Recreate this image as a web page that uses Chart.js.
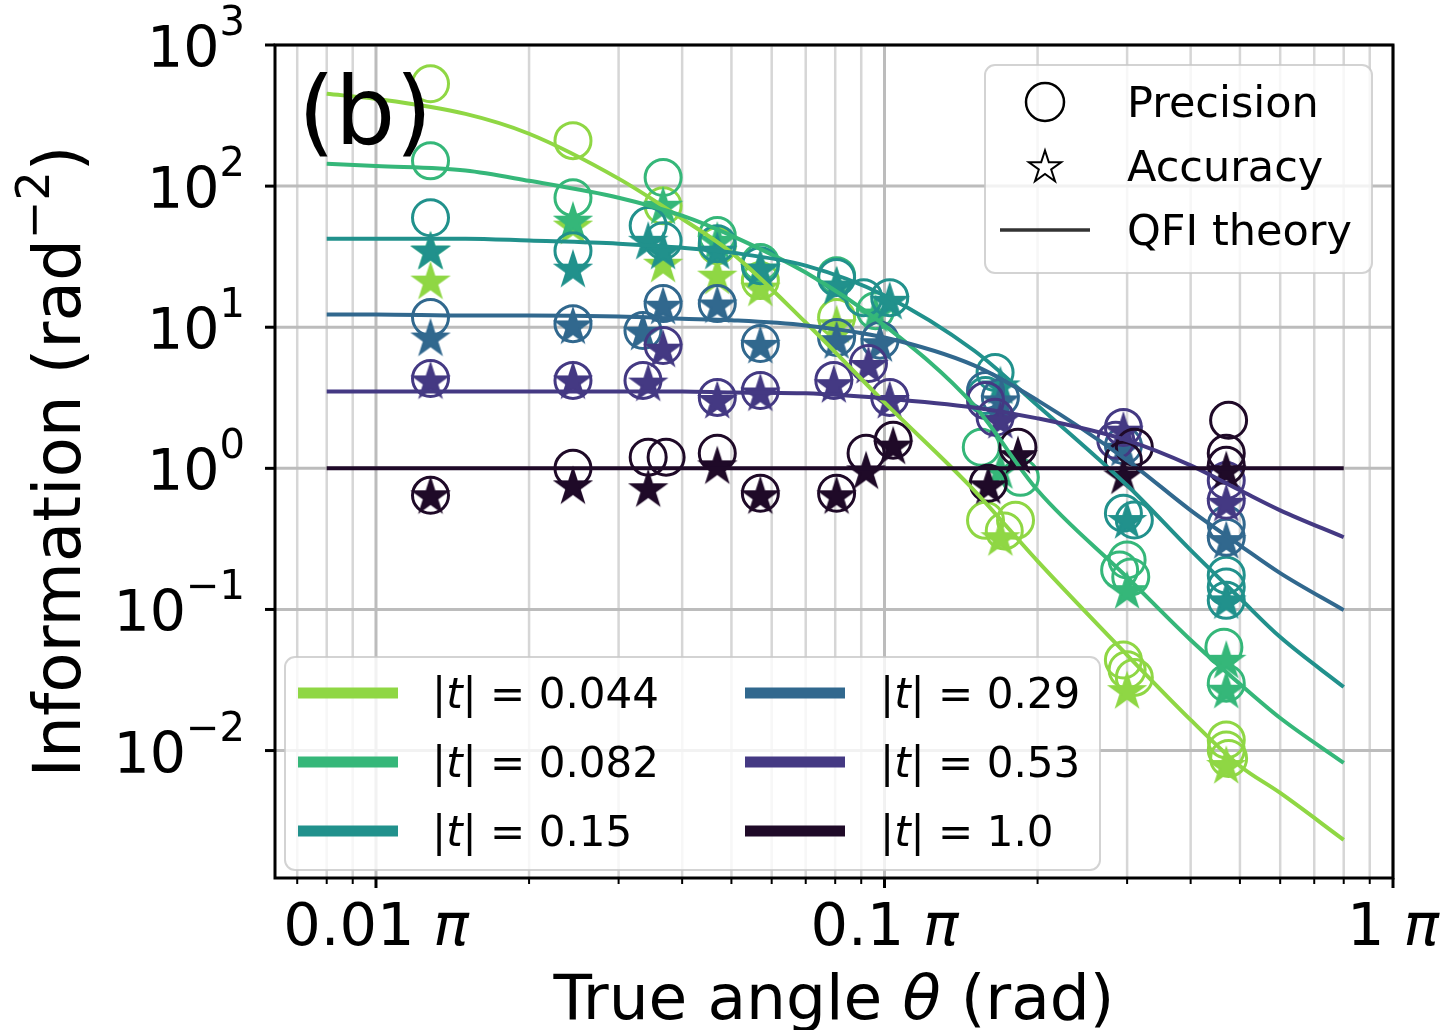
<!DOCTYPE html>
<html>
<head>
<meta charset="utf-8">
<script src="https://cdn.jsdelivr.net/npm/chart.js@4.4.0/dist/chart.umd.min.js"></script>
<style>
  html, body { margin: 0; padding: 0; background: #fff; }
  #wrap { width: 1453px; height: 1030px; }
</style>
</head>
<body>
<div id="wrap"><canvas id="infoChart" width="1453" height="1030"></canvas></div>
<script>
// |t| labels and colours (viridis-like, darkest for |t| = 1)
const tLabels = ['0.044', '0.082', '0.15', '0.29', '0.53', '1.0'];
const tColors = ['#8fd744', '#35b779', '#21918c', '#31688e', '#443983', '#1f0a28'];

// axis ticks (theta in units of pi)
const xMajor = [0.01, 0.1, 1];
const xMajorLabels = ['0.01 ', '0.1 ', '1 '];
const xMinor = [0.007, 0.008, 0.009, 0.02, 0.03, 0.04, 0.05, 0.06, 0.07, 0.08, 0.09,
  0.2, 0.3, 0.4, 0.5, 0.6, 0.7, 0.8, 0.9];
const yMajor = [1000, 100, 10, 1, 0.1, 0.01];
const yExponents = ['3', '2', '1', '0', '\u22121', '\u22122'];

// QFI theory curves
const theoryTheta = [0.008, 0.01, 0.015, 0.02, 0.03, 0.04, 0.05, 0.07, 0.1, 0.15, 0.2, 0.3, 0.4, 0.5, 0.6, 0.8];
const qfi044 = [451, 415, 325, 235, 113, 58.7, 33.8, 10.8, 2.93, 0.699, 0.22, 0.0475, 0.0165, 0.00778, 0.00501, 0.00233];
const qfi082 = [144, 139, 129, 109, 82.8, 61.8, 44.6, 24.4, 10.3, 2.79, 0.699, 0.169, 0.0607, 0.0296, 0.017, 0.00817];
const qfi15 = [42.4, 42.4, 42.4, 41.1, 39.1, 36.6, 33.8, 27.3, 16.8, 6.84, 2.79, 0.758, 0.263, 0.12, 0.0637, 0.0282];
const qfi29 = [12.3, 12.3, 12.1, 12.1, 11.9, 11.5, 11.2, 10.3, 8.45, 5.36, 3.03, 1.14, 0.504, 0.285, 0.181, 0.0989];
const qfi53 = [3.51, 3.51, 3.51, 3.51, 3.51, 3.51, 3.45, 3.4, 3.13, 2.7, 2.26, 1.58, 1.05, 0.699, 0.504, 0.325];
const qfi100 = [1, 1, 1, 1, 1, 1, 1, 1, 1, 1, 1, 1, 1, 1, 1, 1];

// precision (circles) and accuracy (stars)
const prec044Theta = [0.0128, 0.0244, 0.0367, 0.0469, 0.057, 0.0805, 0.158, 0.181, 0.172, 0.295, 0.30, 0.31, 0.47, 0.47, 0.475];
const prec044 = [531, 210, 72.6, 37.8, 21.4, 11.7, 0.428, 0.428, 0.36, 0.0438, 0.0374, 0.033, 0.0101, 0.0119, 0.0088];
const acc044Theta = [0.0128, 0.0244, 0.0367, 0.0469, 0.057, 0.0805, 0.169, 0.30, 0.47];
const acc044 = [21.4, 52.5, 28.2, 23.2, 19.1, 10.5, 0.325, 0.0268, 0.0079];

const prec082Theta = [0.0128, 0.0244, 0.0367, 0.0469, 0.057, 0.0805, 0.096, 0.155, 0.185, 0.29, 0.30, 0.305, 0.465, 0.47];
const prec082 = [151, 82.8, 115, 44.6, 28.7, 23.2, 13.1, 1.41, 0.863, 0.19, 0.224, 0.17, 0.054, 0.030];
const acc082Theta = [0.0128, 0.0244, 0.0367, 0.0469, 0.057, 0.0805, 0.096, 0.169, 0.30, 0.47, 0.47];
const acc082 = [34.9, 56.9, 72.6, 41, 26, 19.7, 12.5, 0.97, 0.137, 0.044, 0.027];

const prec15Theta = [0.0128, 0.0244, 0.0343, 0.0367, 0.0469, 0.057, 0.0805, 0.091, 0.1024, 0.165, 0.158, 0.295, 0.31, 0.47, 0.47, 0.47];
const prec15 = [59.7, 34.9, 52.5, 41, 39.1, 27.3, 22.5, 16.2, 16.2, 4.78, 3.28, 0.48, 0.43, 0.144, 0.175, 0.116];
const acc15Theta = [0.0128, 0.0244, 0.0343, 0.0367, 0.0469, 0.057, 0.0805, 0.1024, 0.169, 0.30, 0.47];
const acc15 = [34.9, 26, 41, 34.9, 34.9, 26, 19.7, 15.4, 3.87, 0.43, 0.116];

const prec29Theta = [0.0128, 0.0244, 0.0335, 0.0367, 0.0469, 0.057, 0.0805, 0.098, 0.169, 0.158, 0.295, 0.47, 0.47];
const prec29 = [11.7, 10.6, 9.48, 14.7, 14.7, 7.67, 8.45, 8.1, 3.18, 3.56, 1.45, 0.325, 0.4];
const acc29Theta = [0.0128, 0.0244, 0.0335, 0.0367, 0.0469, 0.057, 0.0805, 0.098, 0.169, 0.295, 0.47];
const acc29 = [8.45, 10.3, 9.3, 14.2, 14.5, 7.5, 8.1, 7.7, 3.03, 1.4, 0.31];

const prec53Theta = [0.0128, 0.0244, 0.0335, 0.0367, 0.0469, 0.057, 0.0795, 0.093, 0.1024, 0.165, 0.158, 0.295, 0.285, 0.47, 0.47];
const prec53 = [4.33, 4.2, 4.2, 7.42, 3.18, 3.56, 4.2, 5.53, 3.18, 2.3, 3.03, 1.95, 1.58, 0.594, 0.82];
const acc53Theta = [0.0128, 0.0244, 0.0343, 0.0367, 0.0469, 0.057, 0.0795, 0.093, 0.1024, 0.169, 0.295, 0.47];
const acc53 = [4.2, 4.2, 4.05, 7.05, 3.05, 3.45, 3.95, 5.4, 3.05, 2.2, 1.85, 0.57];

const prec100Theta = [0.0128, 0.0244, 0.0343, 0.0372, 0.0469, 0.057, 0.0805, 0.092, 0.104, 0.16, 0.183, 0.295, 0.31, 0.475, 0.47, 0.47];
const prec100 = [0.644, 1.0, 1.2, 1.2, 1.28, 0.666, 0.666, 1.28, 1.58, 0.783, 1.41, 1.14, 1.41, 2.19, 1.28, 1.05];
const acc100Theta = [0.0128, 0.0244, 0.0343, 0.0469, 0.057, 0.0805, 0.092, 0.104, 0.16, 0.183, 0.295, 0.47];
const acc100 = [0.644, 0.758, 0.722, 1.05, 0.644, 0.644, 0.967, 1.45, 0.758, 1.24, 0.89, 0.97];

const theory = [qfi044, qfi082, qfi15, qfi29, qfi53, qfi100];
const precTheta = [prec044Theta, prec082Theta, prec15Theta, prec29Theta, prec53Theta, prec100Theta];
const precVals = [prec044, prec082, prec15, prec29, prec53, prec100];
const accTheta = [acc044Theta, acc082Theta, acc15Theta, acc29Theta, acc53Theta, acc100Theta];
const accVals = [acc044, acc082, acc15, acc29, acc53, acc100];

const FONT = "'DejaVu Sans', sans-serif";

function pts(xs, ys) {
  return xs.map((v, i) => ({ x: v, y: ys[i] }));
}

// matplotlib-like five pointed star as an image point style
function makeStar(color, r, filled, lw) {
  const c = document.createElement('canvas');
  const s = Math.ceil(r * 2 + 6);
  c.width = s; c.height = s;
  const g = c.getContext('2d');
  g.beginPath();
  for (let i = 0; i < 10; i++) {
    const rad = i % 2 === 0 ? r : r * 0.382;
    const a = -Math.PI / 2 + i * Math.PI / 5;
    const px = s / 2 + rad * Math.cos(a), py = s / 2 + 1.5 + rad * Math.sin(a);
    if (i) g.lineTo(px, py); else g.moveTo(px, py);
  }
  g.closePath();
  g.lineJoin = 'miter';
  if (filled) { g.fillStyle = color; g.fill(); }
  g.lineWidth = lw; g.strokeStyle = color; g.stroke();
  return c;
}

const datasets = [];
tLabels.forEach((lab, i) => {
  datasets.push({
    label: 'QFI ' + lab,
    data: pts(theoryTheta, theory[i]),
    showLine: true,
    pointRadius: 0,
    borderColor: tColors[i],
    borderWidth: 4,
    cubicInterpolationMode: 'monotone',
    order: 6 - i
  });
  datasets.push({
    label: 'Accuracy ' + lab,
    data: pts(accTheta[i], accVals[i]),
    pointStyle: makeStar(tColors[i], 18, true, 2),
    pointRadius: 18,
    order: 7 + (5 - i) * 2
  });
  datasets.push({
    label: 'Precision ' + lab,
    data: pts(precTheta[i], precVals[i]),
    pointStyle: 'circle',
    pointRadius: 18,
    pointBorderWidth: 3,
    pointBorderColor: tColors[i],
    pointBackgroundColor: 'rgba(0,0,0,0)',
    order: 8 + (5 - i) * 2
  });
});

// draw text made of several runs (font changes, superscripts)
function drawRuns(ctx, runs, x, y, align) {
  let total = 0;
  runs.forEach(r => { ctx.font = r.font; total += ctx.measureText(r.t).width; });
  let cx = align === 'center' ? x - total / 2 : align === 'right' ? x - total : x;
  ctx.textAlign = 'left';
  ctx.textBaseline = 'alphabetic';
  runs.forEach(r => {
    ctx.font = r.font;
    ctx.fillText(r.t, cx, y + (r.dy || 0));
    cx += ctx.measureText(r.t).width;
  });
}

function box(ctx, x, y, w, h) {
  ctx.beginPath();
  ctx.roundRect(x, y, w, h, 10);
  ctx.fillStyle = 'rgba(255,255,255,0.8)';
  ctx.fill();
  ctx.lineWidth = 2;
  ctx.strokeStyle = 'rgba(200,200,200,0.8)';
  ctx.stroke();
}

const decor = {
  id: 'decor',
  beforeDatasetsDraw(chart) {
    const { ctx, chartArea: a, scales: { x, y } } = chart;
    ctx.save();
    ctx.lineWidth = 2.5;
    ctx.strokeStyle = '#d6d6d6';
    xMinor.forEach(v => {
      const px = x.getPixelForValue(v);
      ctx.beginPath(); ctx.moveTo(px, a.top); ctx.lineTo(px, a.bottom); ctx.stroke();
    });
    ctx.strokeStyle = '#bcbcbc';
    ctx.lineWidth = 3;
    xMajor.forEach(v => {
      const px = x.getPixelForValue(v);
      ctx.beginPath(); ctx.moveTo(px, a.top); ctx.lineTo(px, a.bottom); ctx.stroke();
    });
    yMajor.forEach(v => {
      const py = y.getPixelForValue(v);
      ctx.beginPath(); ctx.moveTo(a.left, py); ctx.lineTo(a.right, py); ctx.stroke();
    });
    ctx.restore();
  },
  afterDraw(chart) {
    const { ctx, chartArea: a, scales: { x, y } } = chart;
    ctx.save();
    ctx.fillStyle = '#000';
    ctx.strokeStyle = '#000';

    // ticks
    ctx.lineWidth = 3;
    xMajor.forEach(v => {
      const px = x.getPixelForValue(v);
      ctx.beginPath(); ctx.moveTo(px, a.bottom); ctx.lineTo(px, a.bottom + 10); ctx.stroke();
    });
    ctx.lineWidth = 2;
    xMinor.forEach(v => {
      const px = x.getPixelForValue(v);
      ctx.beginPath(); ctx.moveTo(px, a.bottom); ctx.lineTo(px, a.bottom + 6); ctx.stroke();
    });
    ctx.lineWidth = 3;
    yMajor.forEach(v => {
      const py = y.getPixelForValue(v);
      ctx.beginPath(); ctx.moveTo(a.left, py); ctx.lineTo(a.left - 10, py); ctx.stroke();
    });

    // frame
    ctx.lineWidth = 3;
    ctx.strokeRect(a.left, a.top, a.right - a.left, a.bottom - a.top);

    // tick labels
    xMajor.forEach((v, i) => {
      const px = x.getPixelForValue(v);
      drawRuns(ctx, [
        { t: xMajorLabels[i], font: '59px ' + FONT },
        { t: '\u03c0', font: 'italic 59px ' + FONT }
      ], px, a.bottom + 67, 'center');
    });
    yMajor.forEach((v, i) => {
      const py = y.getPixelForValue(v);
      drawRuns(ctx, [
        { t: '10', font: '57px ' + FONT },
        { t: yExponents[i], font: '40px ' + FONT, dy: -32 }
      ], a.left - 30, py + 22, 'right');
    });

    // axis titles
    drawRuns(ctx, [
      { t: 'True angle ', font: '63px ' + FONT },
      { t: '\u03b8', font: 'italic 63px ' + FONT },
      { t: ' (rad)', font: '63px ' + FONT }
    ], (a.left + a.right) / 2, 1019, 'center');
    ctx.save();
    ctx.translate(80, (a.top + a.bottom) / 2);
    ctx.rotate(-Math.PI / 2);
    drawRuns(ctx, [
      { t: 'Information (rad', font: '66px ' + FONT },
      { t: '\u22122', font: '46px ' + FONT, dy: -31 },
      { t: ')', font: '66px ' + FONT }
    ], 0, 0, 'center');
    ctx.restore();

    // panel label
    ctx.fillStyle = '#000';
    ctx.font = '95px ' + FONT;
    ctx.textAlign = 'left';
    ctx.fillText('(b)', 298, 144);

    // marker legend
    box(ctx, 985, 65, 387, 208);
    ctx.strokeStyle = '#000';
    ctx.lineWidth = 2.5;
    ctx.beginPath(); ctx.arc(1045, 102, 19, 0, Math.PI * 2); ctx.stroke();
    const st = makeStar('#000', 17, false, 2);
    ctx.drawImage(st, 1045 - st.width / 2, 166 - st.height / 2);
    ctx.strokeStyle = '#333';
    ctx.lineWidth = 3.5;
    ctx.beginPath(); ctx.moveTo(1000, 230); ctx.lineTo(1090, 230); ctx.stroke();
    ctx.fillStyle = '#000';
    ['Precision', 'Accuracy', 'QFI theory'].forEach((s, i) => {
      drawRuns(ctx, [{ t: s, font: '43px ' + FONT }], 1127, [102, 166, 230][i] + 15, 'left');
    });

    // |t| legend
    box(ctx, 285, 657, 815, 213);
    tLabels.forEach((lab, i) => {
      const col = Math.floor(i / 3), row = i % 3;
      const lx = col ? 745 : 298, ty = 693 + row * 69;
      ctx.strokeStyle = tColors[i];
      ctx.lineWidth = 11;
      ctx.lineCap = 'butt';
      ctx.beginPath(); ctx.moveTo(lx, ty); ctx.lineTo(lx + 100, ty); ctx.stroke();
      ctx.fillStyle = '#000';
      drawRuns(ctx, [
        { t: '|', font: '42px ' + FONT },
        { t: 't', font: 'italic 42px ' + FONT },
        { t: '| = ' + lab, font: '42px ' + FONT }
      ], col ? 880 : 432, ty + 15, 'left');
    });
    ctx.restore();
  }
};

const chart = new Chart(document.getElementById('infoChart'), {
  type: 'scatter',
  data: { datasets: datasets },
  options: {
    responsive: false,
    devicePixelRatio: 1,
    animation: false,
    layout: { padding: { left: 275, right: 60, top: 45, bottom: 152 } },
    scales: {
      x: { type: 'logarithmic', min: 0.00633, max: 1, display: false },
      y: { type: 'logarithmic', min: 0.00125, max: 1000, display: false }
    },
    plugins: {
      legend: { display: false },
      tooltip: { enabled: false }
    }
  },
  plugins: [decor]
});
</script>
</body>
</html>
